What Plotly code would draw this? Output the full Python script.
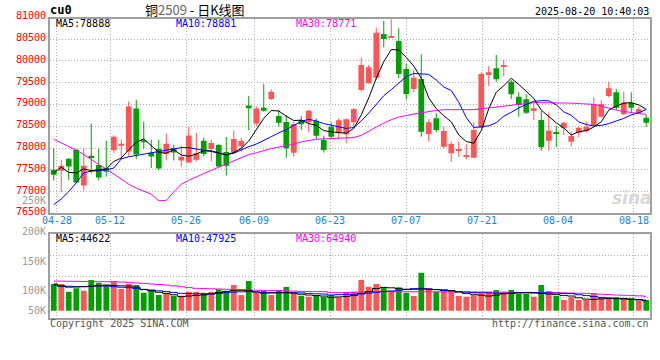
import plotly.graph_objects as go

# ---------------- data ----------------
dates = ["04-25", "04-28", "04-29", "04-30", "05-06", "05-07", "05-08", "05-09",
         "05-12", "05-13", "05-14", "05-15", "05-16", "05-19", "05-20", "05-21", "05-22", "05-23",
         "05-26", "05-27", "05-28", "05-29", "05-30", "06-03", "06-04", "06-05", "06-06",
         "06-09", "06-10", "06-11", "06-12", "06-13", "06-16", "06-17", "06-18", "06-19", "06-20",
         "06-23", "06-24", "06-25", "06-26", "06-27", "06-30", "07-01", "07-02", "07-03", "07-04",
         "07-07", "07-08", "07-09", "07-10", "07-11", "07-14", "07-15", "07-16", "07-17", "07-18",
         "07-21", "07-22", "07-23", "07-24", "07-25", "07-28", "07-29", "07-30", "07-31", "08-01",
         "08-04", "08-05", "08-06", "08-07", "08-08", "08-11", "08-12", "08-13", "08-14", "08-15",
         "08-18", "08-19", "08-20"]

open_ = [77500, 77477, 77754, 77962, 77139, 77823, 77608, 77539, 77946, 78054,
         77923, 78907, 78177, 77892, 77985, 77869, 78000, 77715, 77669, 77731,
         78169, 77977, 78069, 77908, 77900, 78038, 78977, 78561, 78925, 79125,
         78734, 78597, 77894, 78643, 78589, 78628, 78184, 78490, 78337, 78314,
         78589, 79331, 79484, 79614, 80616, 80532, 80455, 79813, 79354, 79584,
         78322, 78681, 78031, 77878, 77932, 77802, 77779, 78467, 79698, 79828,
         79867, 79522, 79178, 79117, 78872, 78643, 78169, 78360, 78452, 78146,
         78352, 78391, 78505, 78719, 79194, 79278, 78773, 79041, 78796, 78697]
close = [77385, 77592, 77577, 77208, 77592, 77785, 77323, 77454, 78261, 78100,
         78954, 77854, 78131, 77808, 77531, 78100, 77900, 77800, 78285, 77885,
         77862, 78115, 77577, 77592, 78208, 78169, 78915, 78907, 78856, 79292,
         78581, 77993, 78551, 78544, 78857, 78284, 77955, 78261, 78635, 78658,
         78895, 79905, 79851, 80646, 80501, 80555, 79698, 79239, 79614, 78375,
         78589, 78414, 78391, 78092, 77978, 77840, 78414, 79698, 79737, 79576,
         79882, 79232, 78987, 78811, 78911, 78016, 78398, 78322, 78582, 78276,
         78467, 78490, 79010, 79010, 79369, 78926, 79041, 78926, 78888, 78582]
high = [78000, 77731, 77770, 77975, 77992, 78561, 77985, 78169, 78292, 78192,
        79069, 79100, 78608, 78192, 78192, 78331, 78077, 78054, 78485, 78346,
        78231, 78192, 78092, 78254, 78400, 78231, 79192, 78961, 79468, 79347,
        78872, 78757, 78605, 78735, 78872, 78681, 78284, 78589, 78681, 78681,
        78911, 80073, 79905, 80761, 80914, 80955, 80746, 79943, 79790, 80149,
        78666, 78796, 78490, 78146, 78146, 78085, 78589, 79737, 79882, 80134,
        80020, 79561, 79278, 79232, 79025, 78849, 78811, 78505, 78605, 78375,
        78490, 78605, 79163, 79102, 79522, 79354, 79293, 79278, 78949, 78758]
low = [77254, 76985, 77269, 77190, 77023, 77423, 77254, 77346, 77885, 77746,
       77808, 77754, 77977, 77539, 77485, 77715, 77715, 77577, 77660, 77692,
       77808, 77692, 77562, 77369, 77862, 77923, 78408, 78500, 78830, 79100,
       78489, 77778, 77802, 78414, 78360, 78207, 77894, 78222, 78207, 78108,
       78490, 79293, 79484, 79561, 80310, 80520, 79599, 79117, 79278, 78261,
       78146, 78360, 77993, 77687, 77802, 77741, 77779, 78452, 79423, 79522,
       79637, 79125, 78720, 78781, 78643, 77939, 77939, 78016, 78299, 78031,
       78245, 78352, 78490, 78704, 79163, 78872, 78758, 78819, 78781, 78490]

ma5 = [77430, 77560, 77440, 77430, 77520, 77480, 77500, 77520, 77690, 77770,
       77960, 78130, 78210, 78060, 77900, 77880, 77960, 77840, 77810, 77860,
       77940, 77935, 77880, 77840, 77900, 77990, 78160, 78420, 78680, 78860,
       78850, 78730, 78630, 78640, 78560, 78520, 78400, 78370, 78350, 78340,
       78450, 78760, 79150, 79600, 79980, 80260, 80250, 80080, 79880, 79600,
       79150, 78900, 78740, 78600, 78300, 78150, 78110, 78400, 78900, 79280,
       79430, 79600, 79460, 79290, 79140, 78870, 78720, 78580, 78460, 78300,
       78370, 78400, 78480, 78600, 78870, 78960, 79030, 79040, 78990, 78888]
ma10 = [76700, 76830, 77000, 77200, 77430, 77470, 77480, 77500, 77540, 77750,
        77800, 77830, 77860, 77890, 77920, 77960, 77990, 78010, 78010, 77970,
        77945, 77920, 77880, 77845, 77880, 77960, 78030, 78090, 78170, 78260,
        78350, 78420, 78520, 78610, 78660, 78620, 78560, 78520, 78480, 78450,
        78470, 78620, 78800, 79000, 79200, 79340, 79480, 79640, 79710, 79700,
        79690, 79560, 79400, 79320, 79050, 78700, 78470, 78490, 78510, 78580,
        78730, 78820, 78920, 79000, 79070, 79085, 79085, 78990, 78830, 78750,
        78600, 78540, 78505, 78520, 78560, 78620, 78680, 78760, 78810, 78881]
ma30 = [78200, 78120, 78030, 77950, 77850, 77730, 77620, 77520, 77400, 77280,
        77170, 77080, 77010, 76940, 76790, 76800, 76990, 77170, 77260, 77340,
        77420, 77490, 77560, 77630, 77710, 77780, 77850, 77890, 77940, 77990,
        78020, 78050, 78090, 78140, 78170, 78200, 78210, 78220, 78230, 78235,
        78240, 78290, 78390, 78480, 78570, 78650, 78710, 78750, 78780, 78810,
        78840, 78860, 78880, 78880, 78870, 78870, 78880, 78900, 78920, 78940,
        78970, 78990, 79010, 79030, 79040, 79040, 79040, 79035, 79035, 79030,
        79020, 79010, 79000, 78960, 78910, 78870, 78840, 78810, 78790, 78771]

volume = [120000, 120000, 85500, 100500, 90000, 138000, 126000, 115500, 133500, 97500,
          120000, 115500, 81000, 93000, 70500, 78000, 67500, 67500, 85500, 85500,
          81000, 85500, 96000, 88500, 115500, 70500, 133500, 81000, 88500, 70500,
          93000, 106500, 81000, 67500, 63000, 67500, 63000, 70500, 60000, 81000,
          85500, 138000, 108000, 120000, 105000, 90000, 105000, 81000, 66000, 171000,
          100500, 85500, 90000, 85500, 66000, 63000, 70500, 78000, 85500, 93000,
          85500, 93000, 75000, 75000, 63000, 115500, 88500, 66000, 48000, 60000,
          48000, 48000, 78000, 60000, 60000, 60000, 51000, 55500, 45000, 48000]
vma5 = [120000, 110000, 106000, 107000, 108000, 110000, 113000, 115500, 114000, 112000,
        111000, 106000, 95000, 90000, 83000, 78000, 72000, 64000, 66000, 69000,
        71000, 76000, 82000, 87000, 90000, 92000, 90000, 84000, 79000, 80000,
        81000, 81000, 79000, 74000, 70500, 68000, 66000, 60000, 62000, 64000,
        68000, 78000, 85500, 100000, 105000, 103000, 99000, 96000, 96500, 97500,
        96000, 95000, 94000, 91000, 84000, 78000, 74000, 70000, 66000, 70000,
        76000, 79000, 81000, 81000, 80000, 78000, 75000, 72000, 69000, 66000,
        58000, 52000, 51000, 53000, 55000, 55500, 55000, 52000, 50000, 44622]
vma10 = [115500, 113000, 110000, 108000, 108500, 109500, 111000, 111000, 108000, 105500,
         103500, 100000, 96000, 93000, 89500, 86000, 82000, 78000, 77000, 76000,
         75500, 75000, 77000, 81000, 83500, 85000, 85500, 84000, 82000, 81000,
         81000, 81000, 81000, 80000, 78000, 76000, 75000, 70500, 72000, 73500,
         74000, 75000, 79000, 83000, 86000, 88500, 92000, 96000, 99000, 100500,
         98000, 95000, 91000, 88500, 86000, 84000, 82000, 81000, 80000, 79000,
         78000, 78500, 79500, 80500, 81000, 80500, 80000, 79000, 78000, 77000,
         72000, 68000, 64000, 60000, 57000, 54000, 52000, 50000, 48500, 47925]
vma30 = [133500, 133000, 132500, 132000, 131500, 131000, 130500, 130500, 130500, 129000,
         127500, 125000, 123000, 120500, 118000, 115500, 112000, 108000, 104000, 100500,
         99500, 98500, 97500, 96500, 95500, 94500, 93000, 92000, 91500, 90500,
         90000, 89000, 88000, 87000, 86500, 86000, 85500, 81000, 81500, 82000,
         83000, 84000, 84500, 85000, 85500, 85500, 85500, 85500, 85000, 85000,
         85000, 85000, 84500, 84500, 84000, 84000, 84000, 84000, 83500, 83000,
         83000, 82500, 82000, 82000, 81500, 81500, 81000, 81000, 80000, 79000,
         78500, 78000, 76000, 74000, 72500, 70500, 69500, 68000, 67000, 64940]

tick_dates = ["04-28", "05-12", "05-26", "06-09", "06-23", "07-07", "07-21", "08-04", "08-18"]
price_ticks = [81000, 80500, 80000, 79500, 79000, 78500, 78000, 77500, 77000, 76500]
vol_tick_labels = ["250K", "200K", "150K", "100K", "50K"]
legend_price = ["MA5:78888", "MA10:78881", "MA30:78771"]
legend_vol = ["MA5:44622", "MA10:47925", "MA30:64940"]

# ---------------- style / layout ----------------
W, H = 660, 360
RED = "#ff5555"
GREEN = "#00a000"
GRID = "#b0b0b0"
FRAME = "#a0a0a0"
MONO = "DejaVu Sans Mono"
PX_L, PX_R = 50, 650
MAIN_TOP, MAIN_BOT = 19, 213.4
VOL_TOP, VOL_BOT = 234.3, 318.3
Y_MIN, Y_MAX = 76500, 80960
V_MIN, V_MAX = -34200, 343800


def fx(px):
    return px / W


def fy(px):
    return 1 - px / H


n = len(dates)
xs = list(range(n))
colors = [RED if c >= o else GREEN for o, c in zip(open_, close)]

# Sina places its date grid on a slightly wider spacing than the candles
tick_idx = [dates.index(d) for d in tick_dates]
tick_pos = [i * (7.592 / 7.5) - 0.58 for i in tick_idx]

fig = go.Figure()

# wicks
for col in (RED, GREEN):
    wx, wy = [], []
    for i in xs:
        if colors[i] == col:
            wx += [i, i, None]
            wy += [low[i], high[i], None]
    fig.add_trace(go.Scatter(x=wx, y=wy, mode="lines", line=dict(color=col, width=1),
                             xaxis="x", yaxis="y", hoverinfo="skip"))

# bodies
fig.add_trace(go.Bar(x=xs, y=[max(abs(c - o), 12) for o, c in zip(open_, close)],
                     base=[min(o, c) for o, c in zip(open_, close)],
                     marker=dict(color=colors, line=dict(width=0)), width=0.76,
                     xaxis="x", yaxis="y"))

for arr, col in ((ma30, "#ff00ff"), (ma10, "#0000ff"), (ma5, "#000000")):
    fig.add_trace(go.Scatter(x=xs, y=arr, mode="lines", line=dict(color=col, width=1),
                             xaxis="x", yaxis="y", hoverinfo="skip"))

# volume
fig.add_trace(go.Bar(x=xs, y=volume, marker=dict(color=colors, line=dict(width=0)),
                     width=0.76, xaxis="x2", yaxis="y2"))
for arr, col in ((vma30, "#ff00ff"), (vma10, "#0000ff"), (vma5, "#000000")):
    fig.add_trace(go.Scatter(x=xs, y=arr, mode="lines", line=dict(color=col, width=1, shape="hvh"),
                             xaxis="x2", yaxis="y2", hoverinfo="skip"))

axis_common = dict(showgrid=True, gridcolor=GRID, griddash="1px,2px", gridwidth=1,
                   showline=True, mirror=True, linecolor=FRAME, linewidth=2,
                   zeroline=False, showticklabels=False, ticks="", fixedrange=True)

main_dom = [fy(MAIN_BOT), fy(MAIN_TOP)]
vol_dom = [fy(VOL_BOT), fy(VOL_TOP)]

fig.update_layout(
    width=W, height=H, margin=dict(l=0, r=0, t=0, b=0),
    paper_bgcolor="white", plot_bgcolor="white", showlegend=False, barmode="overlay",
    xaxis=dict(domain=[fx(PX_L), fx(PX_R)], range=[-0.5, n - 0.5], anchor="y",
               tickvals=tick_pos, **axis_common),
    yaxis=dict(domain=main_dom, range=[Y_MIN, Y_MAX], anchor="x",
               tickvals=[v for v in price_ticks if Y_MIN < v < Y_MAX], **axis_common),
    xaxis2=dict(domain=[fx(PX_L), fx(PX_R)], range=[-0.5, n - 0.5], anchor="y2",
                tickvals=tick_pos, **axis_common),
    yaxis2=dict(domain=vol_dom, range=[V_MIN, V_MAX], anchor="x2",
                tickvals=[61650, 156150, 250650], **axis_common),
)

ann = []


def txt(text, x, y, color="#000", size=10, xanchor="left", family=MONO, xref="paper", bold=False):
    if bold:
        text = "<b>" + text + "</b>"
    ann.append(dict(text=text, x=x, y=y, xref=xref, yref="paper", showarrow=False, borderpad=0,
                    xanchor=xanchor, yanchor="middle", font=dict(family=family, size=size, color=color)))


# price labels
for v in price_ticks:
    frac = (v - Y_MIN) / (Y_MAX - Y_MIN)
    ypaper = main_dom[0] + frac * (main_dom[1] - main_dom[0]) + 1.5 / H
    txt(str(v), fx(47), ypaper, color="#ff0000", size=10, xanchor="right")

# volume labels (Sina's own uneven placement)
for label, ypx in zip(vol_tick_labels, [200, 231, 261.7, 290.7, 310.7]):
    txt(label, fx(47), fy(ypx), color="#999999", size=10, xanchor="right")

# date labels
for d, p in zip(tick_dates, tick_pos):
    txt(d, p, fy(220.5), color="#1a84d0", size=10, xanchor="center", xref="x")

# legends
for t, xpx, col in zip(legend_price, [55, 175, 295], ["#000000", "#0000ff", "#ff00ff"]):
    txt(t, fx(xpx), fy(24), color=col, size=10)
for t, xpx, col in zip(legend_vol, [55, 175, 295], ["#000000", "#0000ff", "#ff00ff"]):
    txt(t, fx(xpx), fy(238.5), color=col, size=10)

# header / footer
txt("cu0", fx(49), fy(10), size=12, bold=True, family="DejaVu Sans Mono")
txt("铜<span style='color:#666666'>2509</span> - 日K线图", fx(195), fy(9.5), size=13,
    xanchor="center", family="Noto Sans CJK SC")
txt("2025-08-20 10:40:03", fx(650), fy(11.5), size=10, xanchor="right")
txt("Copyright 2025 SINA.COM", fx(49), fy(323.5), color="#555555", size=10)
txt("http://finance.sina.com.cn", fx(650), fy(323.5), color="#555555", size=10, xanchor="right")
txt("<i>sina</i>", fx(632), fy(198), color="#d8d8d8", size=17, xanchor="center",
    family="DejaVu Sans", bold=True)

fig.update_layout(annotations=ann)
fig.write_html("out.html", config={"displayModeBar": False},
               post_script="document.body.style.margin='0';document.body.style.padding='0';")
